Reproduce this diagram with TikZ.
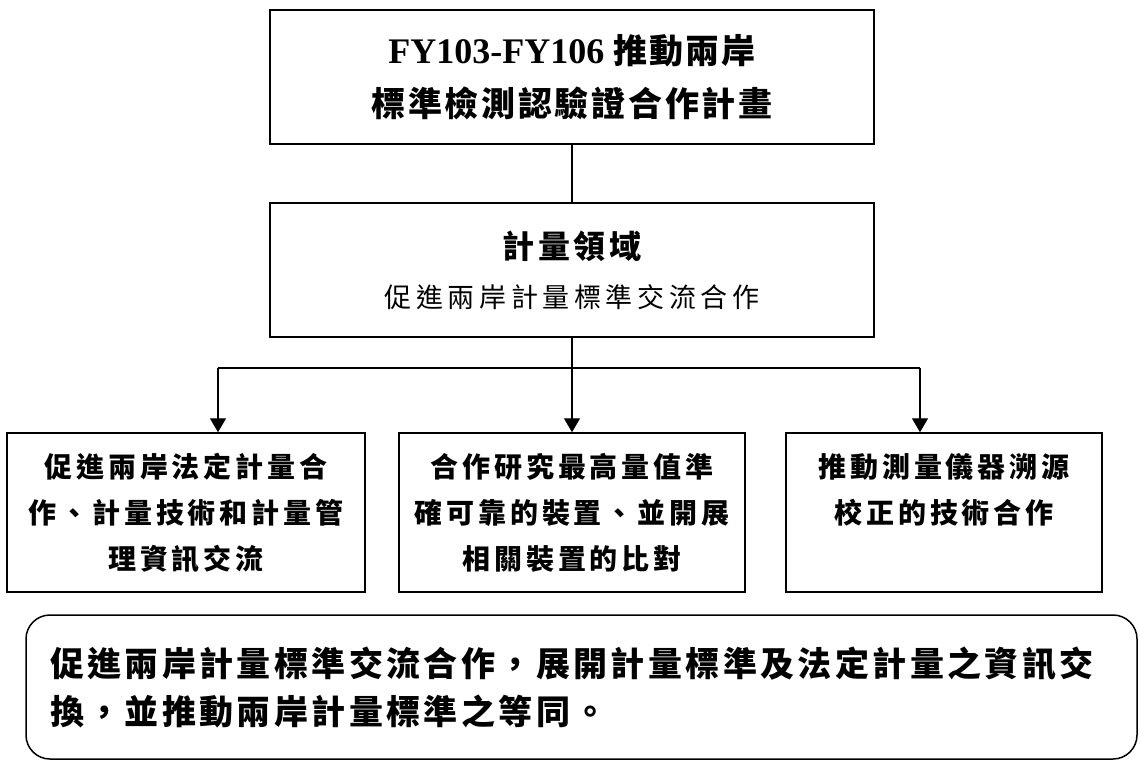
\documentclass[tikz,border=0pt]{standalone}
\usepackage{fontspec}
\setmainfont{Liberation Serif}
\newfontfamily\cjk{Noto Sans CJK TC}
\usetikzlibrary{arrows.meta}
\newcommand{\lsp}[1]{\addfontfeature{LetterSpace=#1}}
\begin{document}
\begin{tikzpicture}[x=1pt,y=-1pt,
  box/.style={draw, line width=1.5pt, inner sep=0pt, align=center},
  conn/.style={line width=1.4pt},
  arr/.style={line width=1.4pt, -{Triangle[width=16pt,length=14pt]}},
  boxtext/.style={font=\fontsize{28}{46}\selectfont\cjk\bfseries\lsp{14}}
]
\useasboundingbox (0,0) rectangle (1140,763);

\node[box, minimum width=604pt, minimum height=134pt, font=\fontsize{36}{53}\selectfont\bfseries] (top) at (572,77)
  {FY103-FY106 {\cjk\bfseries\fontsize{34}{53}\selectfont\lsp{6}推動兩岸}\\
   {\cjk\bfseries\fontsize{34}{53}\selectfont\lsp{8}標準檢測認驗證合作計畫}};

\node[box, minimum width=604pt, minimum height=134pt, font=\fontsize{30}{49}\selectfont] (mid) at (572,270)
  {{\cjk\bfseries\fontsize{32}{49}\selectfont\lsp{12}計量領域}\\
   {\cjk\fontsize{27}{49}\selectfont\lsp{17}促進兩岸計量標準交流合作}};

\node[box, boxtext, minimum width=358pt, minimum height=159pt] (b1) at (186,512.5)
  {促進兩岸法定計量合\\作、計量技術和計量管\\理資訊交流};
\node[box, boxtext, minimum width=346pt, minimum height=159pt] (b2) at (572,512.5)
  {合作研究最高量值準\\確可靠的裝置、並開展\\相關裝置的比對};
\node[box, boxtext, minimum width=316pt, minimum height=159pt] (b3) at (944,512.5)
  {推動測量儀器溯源\\校正的技術合作\\\phantom{校}};

\node[draw, line width=1.5pt, rounded corners=24pt, minimum width=1111pt, minimum height=144pt,
      text width=1063pt, align=left, inner xsep=24pt, inner ysep=0pt,
      font=\fontsize{34}{48}\selectfont\cjk\bfseries\lsp{10}] (note) at (581.5,687)
  {促進兩岸計量標準交流合作，展開計量標準及法定計量之資訊交\\換，並推動兩岸計量標準之等同。};

\coordinate (jc) at (572,368);
\coordinate (jl) at (218,368);
\coordinate (jr) at (920,368);
\draw[conn] (top.south) -- (mid.north);
\draw[conn] (mid.south) -- (jc);
\draw[conn] (jl) -- (jr);
\draw[arr] (jc) -- (b2.north);
\draw[arr] (jl) -- (jl |- b1.north);
\draw[arr] (jr) -- (jr |- b3.north);
\end{tikzpicture}
\end{document}
